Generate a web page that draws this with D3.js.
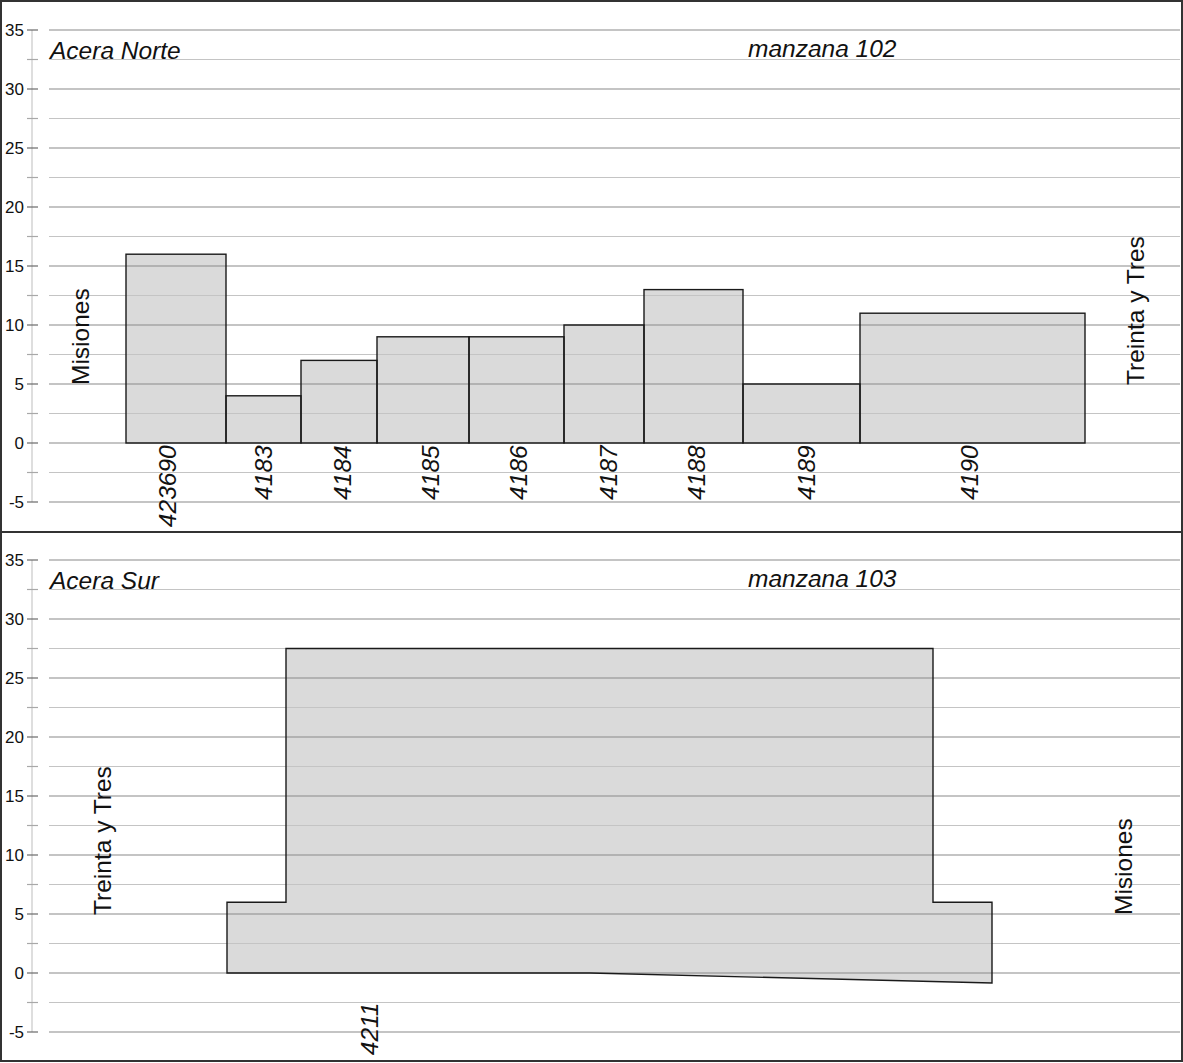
<!DOCTYPE html>
<html><head><meta charset="utf-8">
<script src="https://cdn.jsdelivr.net/npm/d3@7"></script>
<style>
html,body{margin:0;padding:0;background:#fff;}
svg{display:block;font-family:"Liberation Sans",Arial,sans-serif;}
</style></head>
<body>
<svg id="chart" width="1183" height="1063"></svg>
<script>
// ---- data ----
const yTicks = [35, 30, 25, 20, 15, 10, 5, 0, -5];
const yMinorTicks = [32.5, 27.5, 22.5, 17.5, 12.5, 7.5, 2.5, -2.5];

// Acera Norte (manzana 102)
const lotsNorte = ["423690", "4183", "4184", "4185", "4186", "4187", "4188", "4189", "4190"];
const valuesNorte = [16, 4, 7, 9, 9, 10, 13, 5, 11];
const widthsNorte = [10.0, 7.5, 7.6, 9.2, 9.5, 8.0, 9.9, 11.7, 22.5];
const labelNorteX = [4.0, 13.6, 21.5, 30.3, 39.1, 48.1, 56.9, 67.9, 84.2];

// Acera Sur (manzana 103): single lot with stepped profile
const lotsSur = ["4211"];
const profileSurX = [10.1, 10.1, 16.0, 16.0, 80.7, 80.7, 86.6, 86.6, 46.4];
const profileSurY = [0, 6, 6, 27.5, 27.5, 6, 6, -0.85, 0];
const labelSurX = [24.3];

const panels = [
  {top: 0, title: "Acera Norte", manzana: "manzana 102", left: "Misiones", right: "Treinta y Tres"},
  {top: 530, title: "Acera Sur", manzana: "manzana 103", left: "Treinta y Tres", right: "Misiones"}
];

// ---- drawing ----
const svg = d3.select("#chart");
const x = d3.scaleLinear().domain([0, 95.9]).range([126, 1085]);

panels.forEach((p, i) => {
  const g = svg.append("g").attr("transform", `translate(0,${p.top})`);
  const y = d3.scaleLinear().domain([-5, 35]).range([502, 30]);

  // fills
  if (i === 0) {
    let acc = 0;
    const bars = lotsNorte.map((l, k) => {
      const b = {lot: l, v: valuesNorte[k], x0: acc, x1: acc + widthsNorte[k], lx: labelNorteX[k]};
      acc += widthsNorte[k];
      return b;
    });
    g.selectAll("rect.fill").data(bars).join("rect")
      .attr("x", d => x(d.x0)).attr("width", d => x(d.x1) - x(d.x0))
      .attr("y", d => y(d.v)).attr("height", d => y(0) - y(d.v))
      .attr("fill", "#dadada");
    p.bars = bars;
  } else {
    const pts = profileSurX.map((vx, k) => [x(vx), y(profileSurY[k])]);
    g.append("path").attr("d", d3.line()(pts) + "Z").attr("fill", "#dadada");
    p.pts = pts;
  }

  // gridlines
  g.selectAll("line.minor").data(yMinorTicks).join("line")
    .attr("x1", 49).attr("x2", 1180)
    .attr("y1", d => y(d)).attr("y2", d => y(d))
    .attr("stroke", "#c4c4c4").attr("stroke-width", 1.2);
  g.selectAll("line.major").data(yTicks).join("line")
    .attr("x1", 49).attr("x2", 1180)
    .attr("y1", d => y(d)).attr("y2", d => y(d))
    .attr("stroke", "#8a8a8a").attr("stroke-width", 1.2);

  // axis
  g.append("line").attr("x1", 32).attr("x2", 32).attr("y1", y(35)).attr("y2", y(-5))
    .attr("stroke", "#c8c8c8").attr("stroke-width", 1.2);
  g.selectAll("line.mt").data(yMinorTicks).join("line")
    .attr("x1", 27).attr("x2", 38).attr("y1", d => y(d)).attr("y2", d => y(d))
    .attr("stroke", "#a8a8a8").attr("stroke-width", 1.2);
  g.selectAll("line.Mt").data(yTicks).join("line")
    .attr("x1", 27).attr("x2", 38).attr("y1", d => y(d)).attr("y2", d => y(d))
    .attr("stroke", "#6a6a6a").attr("stroke-width", 1.2);
  g.selectAll("text.tick").data(yTicks).join("text")
    .attr("x", 24).attr("y", d => y(d)).attr("dy", "0.36em")
    .attr("text-anchor", "end").attr("font-size", 17).attr("fill", "#111")
    .text(d => d);

  // outlines
  if (i === 0) {
    g.selectAll("rect.out").data(p.bars).join("rect")
      .attr("x", d => x(d.x0)).attr("width", d => x(d.x1) - x(d.x0))
      .attr("y", d => y(d.v)).attr("height", d => y(0) - y(d.v))
      .attr("fill", "none").attr("stroke", "#1a1a1a").attr("stroke-width", 1.4);
    g.selectAll("text.lot").data(p.bars).join("text")
      .attr("transform", d => `translate(${x(d.lx) + 10},${y(-0.2)}) rotate(-90)`)
      .attr("text-anchor", "end").attr("font-size", 24.5).attr("font-style", "italic")
      .attr("fill", "#111").text(d => d.lot);
  } else {
    g.append("path").attr("d", d3.line()(p.pts) + "Z")
      .attr("fill", "none").attr("stroke", "#1a1a1a").attr("stroke-width", 1.4);
    g.selectAll("text.lot").data(lotsSur).join("text")
      .attr("transform", (d, k) => `translate(${x(labelSurX[k]) + 9},${y(-2.5)}) rotate(-90)`)
      .attr("text-anchor", "end").attr("font-size", 24.5).attr("font-style", "italic")
      .attr("fill", "#111").text(d => d);
  }

  // titles
  g.append("text").attr("x", 50).attr("y", 59).attr("font-size", 24.5).attr("font-style", "italic")
    .attr("fill", "#111").text(p.title);
  g.append("text").attr("x", 748).attr("y", 57).attr("font-size", 24.5).attr("font-style", "italic")
    .attr("fill", "#111").text(p.manzana);

  // street labels
  const lx = i === 0 ? 89 : 111, rx = i === 0 ? 1144 : 1132;
  const ly = 385;
  g.append("text").attr("transform", `translate(${lx},${ly}) rotate(-90)`)
    .attr("font-size", 24.5).attr("fill", "#111").text(p.left);
  g.append("text").attr("transform", `translate(${rx},${ly}) rotate(-90)`)
    .attr("font-size", 24.5).attr("fill", "#111").text(p.right);
});

// frame
svg.append("rect").attr("x", 1).attr("y", 1).attr("width", 1181).attr("height", 1060)
  .attr("fill", "none").attr("stroke", "#333").attr("stroke-width", 2);
svg.append("line").attr("x1", 0).attr("x2", 1183).attr("y1", 532).attr("y2", 532)
  .attr("stroke", "#333").attr("stroke-width", 2);
</script>
</body></html>
